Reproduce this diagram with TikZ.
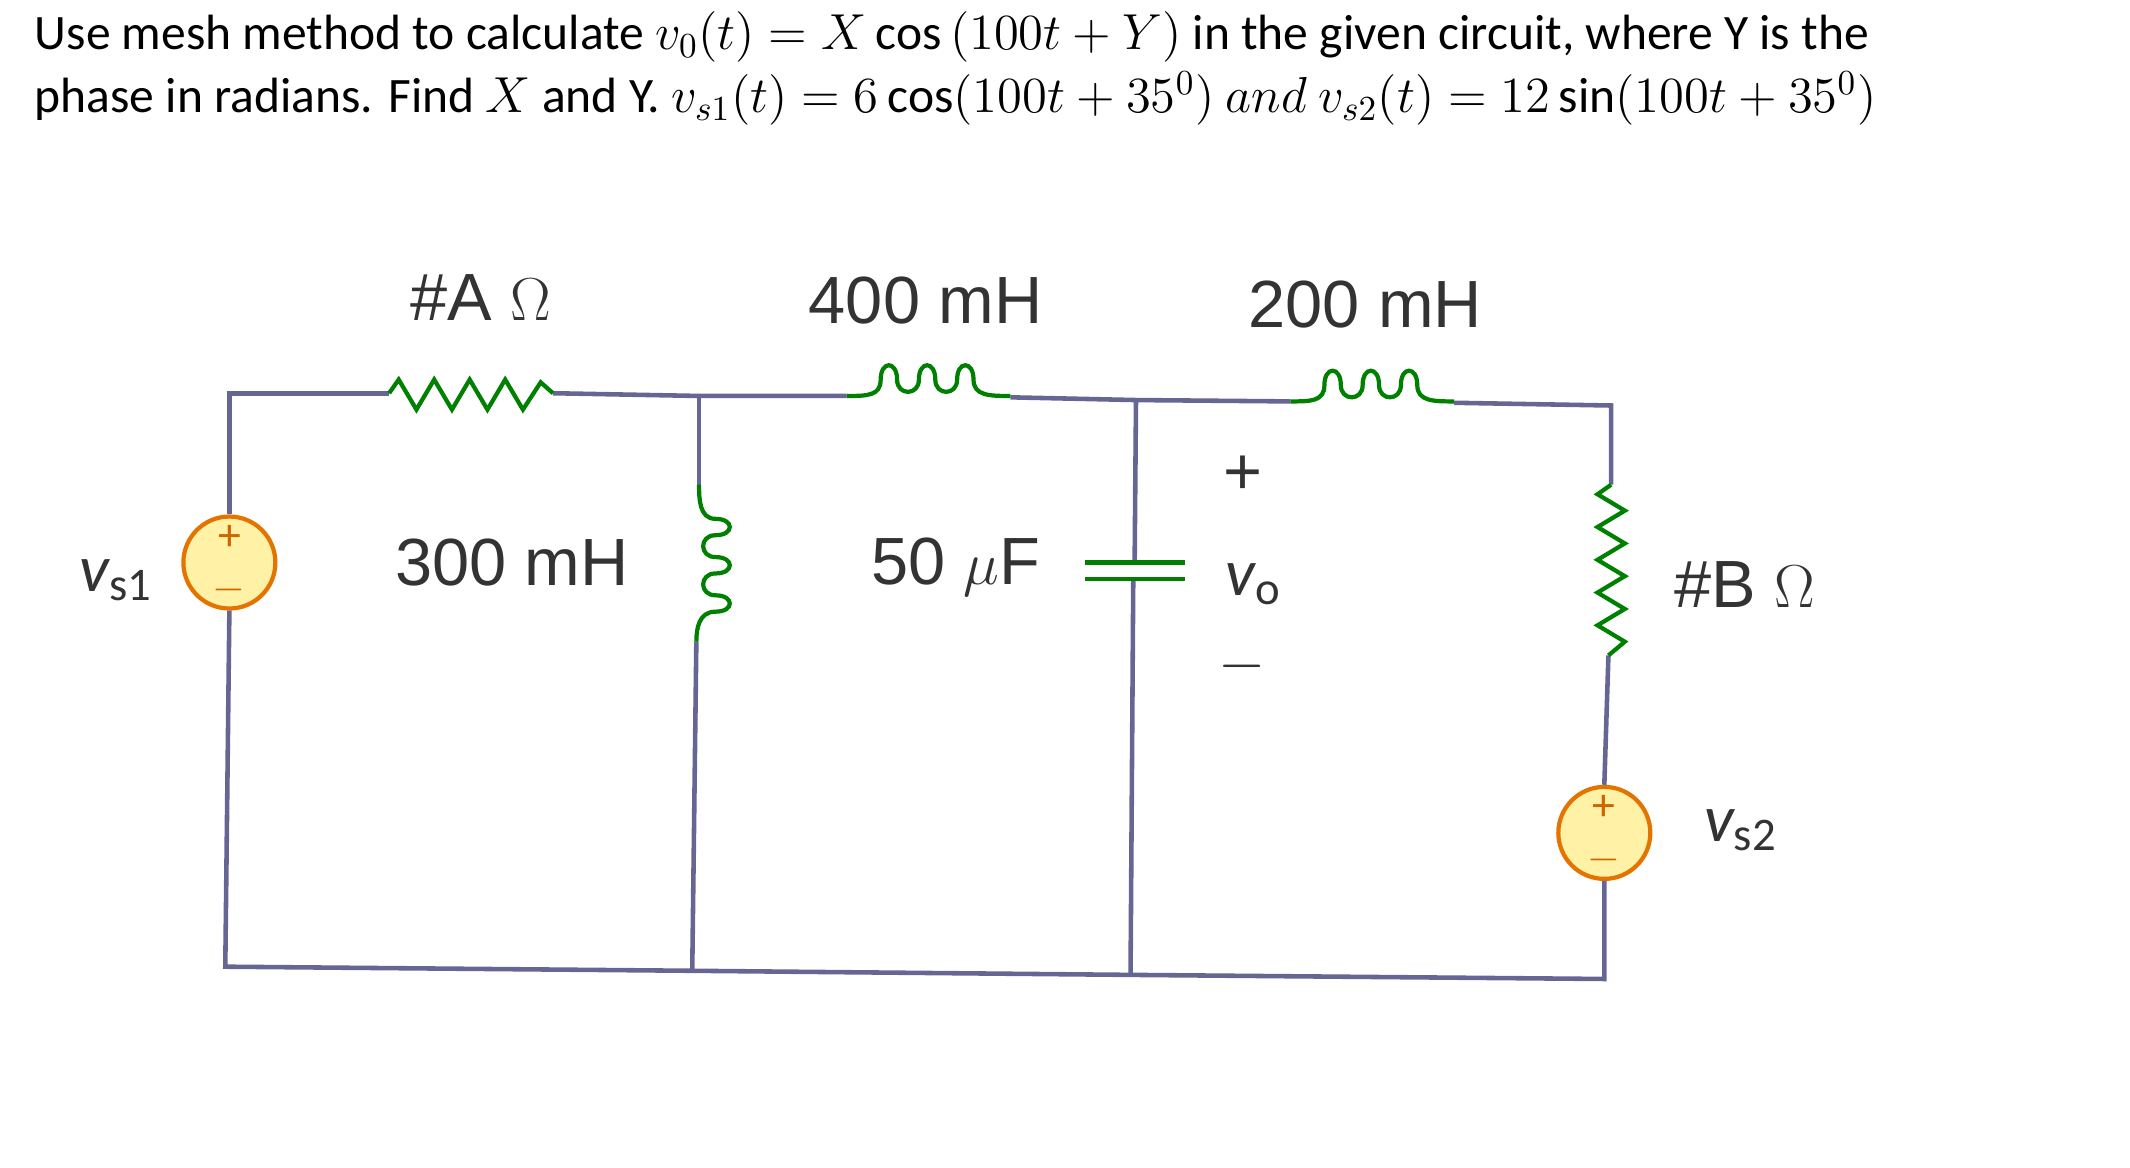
\documentclass[tikz,border=0pt]{standalone}
\usepackage{fontspec}
\setmainfont{Carlito}
\newfontfamily\circfont{Liberation Sans}
\begin{document}
\begin{tikzpicture}[x=0.01365cm,y=-0.01365cm,
  wire/.style={draw=black!70!blue!60,line width=1.3pt},
  lab/.style={font=\circfont\fontsize{19}{22}\selectfont,text=black!80,inner sep=0},
  coil/.style={draw=green!50!black,line width=1.2pt},
  sgn/.style={text=orange!80!black,font=\fontsize{13}{13}\selectfont,inner sep=0},
  src/.style={circle,draw=orange!90!black,line width=1.2pt,fill=orange!30!yellow!35,inner sep=0,minimum size=0.92cm}]
\useasboundingbox (0,0) rectangle (1560,855);
\node[anchor=west,inner sep=0,font=\fontsize{14.1}{16}\selectfont] (t1) at (25,27) {Use mesh method to calculate $v_0(t)=X\cos\,(100t+Y)$ in the given circuit, where Y is the};
\node[anchor=west,inner sep=0,font=\fontsize{14.1}{16}\selectfont] (t2) at (25,72) {phase in radians. Find $X$ and Y. $v_{s1}(t)=6\cos(100t+35^0)\ and\ v_{s2}(t)=12\sin(100t+35^0)$};
\coordinate (tl) at (168,288); \coordinate (ra) at (285,288); \coordinate (rb) at (405,288);
\coordinate (n1) at (512,290); \coordinate (la) at (620,290); \coordinate (lb) at (740,291);
\coordinate (n2) at (832,293); \coordinate (lc) at (945,294); \coordinate (ld) at (1065,295);
\coordinate (tr) at (1180,297);
\coordinate (bl) at (165,708); \coordinate (b1) at (507,711); \coordinate (b2) at (828,714); \coordinate (br) at (1175,717);
\node[src] (s1) at (168,412) {}; \node[src] (s2) at (1175,610) {};
\node[sgn] (p1) at (168,394) {+};
\node[sgn] (m1) at (168,432) {$-$};
\node[sgn] (p2) at (1175,592) {+};
\node[sgn] (m2) at (1175,630) {$-$};
\draw[wire] (s1.north) -- (tl) -- (ra);
\draw[wire] (rb) -- (n1) -- (la); \draw[wire] (lb) -- (n2) -- (lc); \draw[wire] (ld) -- (tr) -- (1180,355);
\draw[wire] (s1.south) -- (bl) -- (b1) -- (b2) -- (br) -- (s2.south);
\draw[wire] (s2.north) -- (1178,480);
\draw[wire] (n1) -- (512,355); \draw[wire] (510,470) -- (b1);
\draw[wire] (n2) -- (831,412); \draw[wire] (830,424) -- (b2);
\draw[coil] (ra) -- (292,278) -- (305,300) -- (318,278) -- (331,300) -- (344,278) -- (357,300) -- (370,278) -- (383,300) -- (396,280) -- (rb);
\draw[coil] (1180,355) -- (1170,362) -- (1190,374) -- (1170,386) -- (1190,398) -- (1170,410) -- (1190,422) -- (1170,434) -- (1190,446) -- (1170,458) -- (1190,470) -- (1178,480);
\foreach \s in {la,lc}{
 \draw[coil] (\s) .. controls +(15,0) and +(0,12) .. ++(25,-12) .. controls +(0,-14) and +(0,-14) .. ++(12,0) .. controls +(0,12) and +(0,12) .. ++(16,0) .. controls +(0,-14) and +(0,-14) .. ++(12,0) .. controls +(0,12) and +(0,12) .. ++(16,0) .. controls +(0,-14) and +(0,-14) .. ++(12,0) .. controls +(0,12) and +(-15,0) .. ++(27,12);}
\draw[coil] (512,355) .. controls +(0,10) and +(-12,0) .. ++(12,25) .. controls +(14,0) and +(14,0) .. ++(0,12) .. controls +(-12,0) and +(-12,0) .. ++(0,16) .. controls +(14,0) and +(14,0) .. ++(0,12) .. controls +(-12,0) and +(-12,0) .. ++(0,16) .. controls +(14,0) and +(14,0) .. ++(0,12) .. controls +(-12,0) and +(0,-10) .. (510,470);
\draw[coil] (795,412) -- (868,412); \draw[coil] (795,424) -- (868,424);
\node[lab] (lA) at (352,218) {\#A $\Omega$};
\node[lab] (l4) at (678,220) {400 mH};
\node[lab] (l2) at (1000,223) {200 mH};
\node[lab] (l3) at (375,412) {300 mH};
\node[lab] (l5) at (700,415) {50 $\mu$F};
\node[lab] (lp) at (910,348) {+};
\node[lab] (lo) at (918,428) {$\mathit{v}_{\mathrm o}$};
\node[lab] (lm) at (910,488) {$-$};
\node[lab] (lB) at (1278,428) {\#B $\Omega$};
\node[lab] (ls1) at (85,425) {$\mathit{v}_{\mathrm{s1}}$};
\node[lab] (ls2) at (1275,608) {$\mathit{v}_{\mathrm{s2}}$};
\end{tikzpicture}
\end{document}
